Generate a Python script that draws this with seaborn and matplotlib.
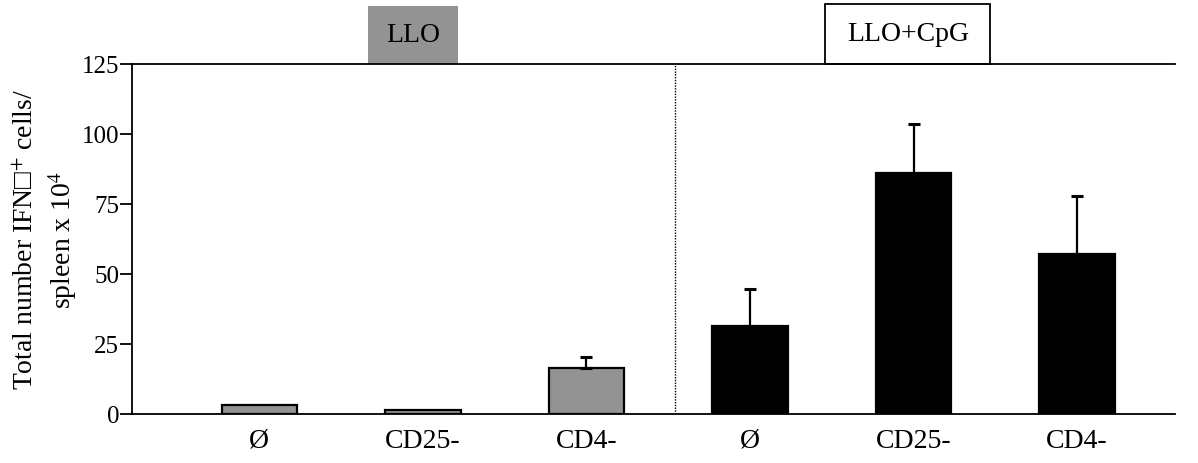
import matplotlib
matplotlib.use("Agg")
import matplotlib.pyplot as plt
import matplotlib.transforms as mtransforms
from matplotlib.patches import Rectangle
import numpy as np
import pandas as pd
import seaborn as sns

# values
groups = ["LLO", "LLO", "LLO", "LLO+CpG", "LLO+CpG", "LLO+CpG"]
treatments = ["Ø", "CD25-", "CD4-", "Ø", "CD25-", "CD4-"]
cells = [3.0, 1.3, 16.2, 31.3, 86.0, 57.0]
sem = [0.0, 0.0, 4.2, 13.3, 17.5, 20.7]
yticks = [0, 25, 50, 75, 100, 125]

sns.set_theme(style="white")
plt.rcParams["font.family"] = ["Liberation Serif", "DejaVu Sans"]
plt.rcParams["mathtext.fontset"] = "stix"
for k in ["text.color", "axes.labelcolor", "xtick.color", "ytick.color"]:
    plt.rcParams[k] = "black"

df = pd.DataFrame({
    "key": [g + " " + t for g, t in zip(groups, treatments)],
    "group": groups,
    "cells": cells,
})

fig = plt.figure(figsize=(11.98, 4.64), dpi=100)
ax = fig.add_axes([0.110, 0.106, 0.871, 0.754])

sns.barplot(data=df, x="key", y="cells", hue="group",
            palette={"LLO": "#939393", "LLO+CpG": "black"},
            dodge=False, width=0.46, edgecolor="black", linewidth=1.6,
            legend=False, ax=ax)

# upper error bars only, for bars that have one
x = np.arange(len(cells))
has_err = np.array(sem) > 0
ax.errorbar(x[has_err], np.array(cells)[has_err],
            yerr=[np.zeros(has_err.sum()), np.array(sem)[has_err]],
            fmt="none", ecolor="black", elinewidth=1.6, capsize=4, capthick=2.2)

ax.set_xlim(-0.78, 5.6)
ax.set_ylim(0, 125)
ax.set_yticks(yticks)
ax.set_yticklabels([str(v) for v in yticks], fontsize=18)
ax.set_xticks(x)
ax.set_xticklabels(treatments, fontsize=20)
ax.tick_params(axis="x", length=0, pad=10)
ax.tick_params(axis="y", direction="out", length=9, width=1.3, pad=0, left=True)
ax.set_xlabel("")
ax.set_ylabel("Total number IFN\u25a1$^{+}$ cells/\nspleen x 10$^{4}$", fontsize=20,
              labelpad=2, linespacing=1.3)

for side in ["left", "bottom", "top"]:
    ax.spines[side].set_color("black")
    ax.spines[side].set_linewidth(1.3)
ax.spines["right"].set_visible(False)

# dotted separator between the two groups
ax.axvline(2.54, color="black", linestyle=(0, (1, 1)), linewidth=1.0)

# group label boxes above the axes
trans = mtransforms.blended_transform_factory(ax.transData, ax.transAxes)
ax.add_patch(Rectangle((0.667, 1.0), 0.55, 0.165, transform=trans,
                       facecolor="#939393", edgecolor="none", clip_on=False))
ax.text(0.94, 1.085, "LLO", transform=trans, ha="center", va="center", fontsize=20)
ax.add_patch(Rectangle((3.46, 1.0), 1.01, 0.172, transform=trans,
                       facecolor="white", edgecolor="black", linewidth=1.3,
                       clip_on=False))
ax.text(3.965, 1.088, "LLO+CpG", transform=trans, ha="center", va="center",
        fontsize=20)

fig.savefig("out.png", dpi=100)
